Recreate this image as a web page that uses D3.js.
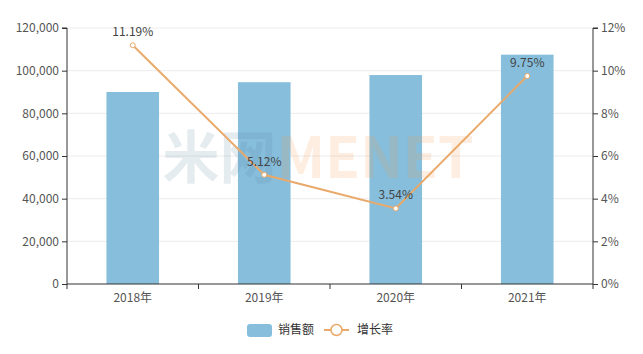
<!DOCTYPE html>
<html>
<head>
<meta charset="utf-8">
<script src="https://cdn.jsdelivr.net/npm/d3@7"></script>
<style>
  body { margin: 0; background: #fff; }
  text { font-family: "Noto Sans CJK SC", "Noto Sans", sans-serif; }
</style>
</head>
<body>
<div id="chart"></div>
<script>
// data
const years = ['2018年', '2019年', '2020年', '2021年'];
const sales = [90000, 94600, 97950, 107500];
const growth = [11.19, 5.12, 3.54, 9.75];
const salesTicks = [0, 20000, 40000, 60000, 80000, 100000, 120000];
const growthTicks = [0, 2, 4, 6, 8, 10, 12];

const width = 643, height = 354;
const margin = { top: 28, right: 50, bottom: 70, left: 67 };
const barColor = '#86bedc';
const lineColor = '#e9a96a';

const svg = d3.select('#chart').append('svg')
    .attr('width', width)
    .attr('height', height);

const innerW = width - margin.left - margin.right;
const innerH = height - margin.top - margin.bottom;

const chart = svg.append('g')
    .attr('transform', `translate(${margin.left},${margin.top})`);

const xBand = d3.scaleBand().domain(years).range([0, innerW]);
const yL = d3.scaleLinear().domain([0, 120000]).range([innerH, 0]);
const yR = d3.scaleLinear().domain([0, 12]).range([innerH, 0]);

// gridlines
chart.selectAll('.grid')
    .data(salesTicks.slice(1))
    .join('line')
    .attr('class', 'grid')
    .attr('x1', 0).attr('x2', innerW)
    .attr('y1', d => yL(d)).attr('y2', d => yL(d))
    .attr('stroke', '#ececec');

// bars
chart.selectAll('.bar')
    .data(sales)
    .join('rect')
    .attr('class', 'bar')
    .attr('x', (d, i) => xBand(years[i]) + xBand.bandwidth() * 0.3)
    .attr('width', xBand.bandwidth() * 0.4)
    .attr('y', d => yL(d))
    .attr('height', d => innerH - yL(d))
    .attr('fill', barColor);

// watermark (drawn over the bars, faint)
const wm = chart.append('text')
    .attr('x', innerW / 2 - 12)
    .attr('y', 150)
    .attr('text-anchor', 'middle')
    .attr('font-size', 57)
    .attr('font-weight', 'bold')
    .style('font-family', '"Noto Sans CJK SC", sans-serif');
wm.append('tspan').attr('fill', '#5f86a3').attr('fill-opacity', 0.16).text('米网');
wm.append('tspan').attr('fill', '#f39a4f').attr('fill-opacity', 0.17).text('MENET');

// line
const cx = i => xBand(years[i]) + xBand.bandwidth() / 2;
const line = d3.line()
    .x((d, i) => cx(i))
    .y(d => yR(d));

chart.append('path')
    .datum(growth)
    .attr('d', line)
    .attr('fill', 'none')
    .attr('stroke', lineColor)
    .attr('stroke-width', 2);

chart.selectAll('.dot')
    .data(growth)
    .join('circle')
    .attr('class', 'dot')
    .attr('cx', (d, i) => cx(i))
    .attr('cy', d => yR(d))
    .attr('r', 2.5)
    .attr('fill', '#fff')
    .attr('stroke', lineColor)
    .attr('stroke-width', 1);

chart.selectAll('.dot-label')
    .data(growth)
    .join('text')
    .attr('class', 'dot-label')
    .attr('x', (d, i) => cx(i))
    .attr('y', d => yR(d) - 9)
    .attr('text-anchor', 'middle')
    .attr('font-size', 12)
    .attr('fill', '#444')
    .text(d => d.toFixed(2) + '%');

// axes
const axisLeft = d3.axisLeft(yL).tickValues(salesTicks).tickSize(5).tickPadding(3)
    .tickFormat(d3.format(','));
const axisRight = d3.axisRight(yR).tickValues(growthTicks).tickSize(5).tickPadding(3)
    .tickFormat(d => d + '%');
const axisBottom = d3.axisBottom(xBand).tickSize(0).tickPadding(9);

const gL = chart.append('g').call(axisLeft);
const gR = chart.append('g').attr('transform', `translate(${innerW},0)`).call(axisRight);
const gB = chart.append('g').attr('transform', `translate(0,${innerH})`).call(axisBottom);

// category boundary ticks on x axis
gB.selectAll('.bound')
    .data(d3.range(years.length + 1))
    .join('line')
    .attr('class', 'bound')
    .attr('x1', i => i * xBand.step()).attr('x2', i => i * xBand.step())
    .attr('y1', 0).attr('y2', 5)
    .attr('stroke', '#333');

[gL, gR, gB].forEach(g => {
    g.select('.domain').attr('stroke', '#333');
    g.selectAll('.tick line').attr('stroke', '#333');
    g.selectAll('text').attr('font-size', 12).attr('fill', '#555')
        .style('font-family', '"Noto Sans CJK SC", sans-serif');
});
gR.select('.domain').attr('d', `M5,0H0V${innerH}`);
gL.select('.domain').attr('d', `M-5,0H0V${innerH}`);
gB.select('.domain').attr('d', `M0,0H${innerW}`);

// legend
const legend = svg.append('g').attr('transform', 'translate(247,330)');
legend.append('rect')
    .attr('x', 0).attr('y', -6)
    .attr('width', 25).attr('height', 13)
    .attr('rx', 3)
    .attr('fill', barColor);
legend.append('text')
    .attr('x', 31).attr('y', 0).attr('dy', '.35em')
    .attr('font-size', 12).attr('fill', '#333')
    .text('销售额');
legend.append('line')
    .attr('x1', 77).attr('x2', 102)
    .attr('y1', 0).attr('y2', 0)
    .attr('stroke', lineColor).attr('stroke-width', 2);
legend.append('circle')
    .attr('cx', 89.5).attr('cy', 0).attr('r', 5.5)
    .attr('fill', '#fff').attr('stroke', lineColor).attr('stroke-width', 1.5);
legend.append('text')
    .attr('x', 110).attr('y', 0).attr('dy', '.35em')
    .attr('font-size', 12).attr('fill', '#333')
    .text('增长率');
</script>
</body>
</html>
